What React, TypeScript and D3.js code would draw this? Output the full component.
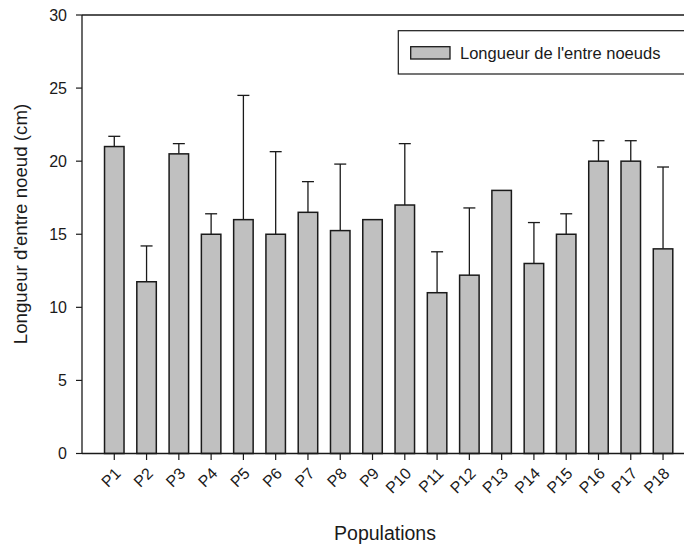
import React from "react";
import * as d3 from "d3";

const categories = ["P1","P2","P3","P4","P5","P6","P7","P8","P9","P10","P11","P12","P13","P14","P15","P16","P17","P18"];
const means = [21, 11.75, 20.5, 15, 16, 15, 16.5, 15.25, 16, 17, 11, 12.2, 18, 13, 15, 20, 20, 14];
const upperErr = [21.7, 14.2, 21.2, 16.4, 24.5, 20.65, 18.6, 19.8, 16, 21.2, 13.8, 16.8, 18, 15.8, 16.4, 21.4, 21.4, 19.6];
const yTicks = [0, 5, 10, 15, 20, 25, 30];
const legendLabel = "Longueur de l'entre noeuds";

export default function App() {
  const W = 684, H = 552;
  const left = 82, top = 15, bottom = 453.5;
  const step = 32.28;
  const x = d3.scaleLinear().domain([0, categories.length + 1]).range([left, left + step * (categories.length + 1)]);
  const y = d3.scaleLinear().domain([0, 30]).range([bottom, top]);
  const bw = 19.5;
  const font = "Liberation Sans, Arial, sans-serif";
  const ink = "#1a1a1a";
  return (
    <svg width={W} height={H} style={{ position: "absolute", left: 0, top: 0, background: "#fff" }} fontFamily={font}>
      {categories.map((c, i) => {
        const cx = x(i + 1);
        const yt = y(means[i]);
        const ye = y(upperErr[i]);
        return (
          <g key={c}>
            {upperErr[i] > means[i] && (
              <g stroke={ink} strokeWidth={1.3}>
                <line x1={cx} x2={cx} y1={yt} y2={ye} />
                <line x1={cx - 6} x2={cx + 6} y1={ye} y2={ye} />
              </g>
            )}
            <rect x={cx - bw / 2} y={yt} width={bw} height={bottom - yt} fill="#c0c0c0" stroke={ink} strokeWidth={1.5} />
          </g>
        );
      })}
      <line x1={left} x2={left} y1={top} y2={bottom} stroke={ink} strokeWidth={1.3} />
      <line x1={left} x2={W} y1={top} y2={top} stroke={ink} strokeWidth={1.3} />
      <line x1={left} x2={W} y1={bottom} y2={bottom} stroke={ink} strokeWidth={1.5} />
      {yTicks.map((t) => (
        <g key={t}>
          <line x1={left - 6} x2={left} y1={y(t)} y2={y(t)} stroke={ink} strokeWidth={1.2} />
          <text x={67} y={y(t)} dy="0.35em" textAnchor="end" fontSize={16} fill={ink}>{t}</text>
        </g>
      ))}
      {categories.map((c, i) => {
        const cx = x(i + 1);
        return (
          <g key={"t" + c}>
            <line x1={cx} x2={cx} y1={bottom} y2={bottom + 6.5} stroke={ink} strokeWidth={1.2} />
            <text transform={`translate(${cx + 3.5},${bottom + 17}) rotate(-45)`} textAnchor="end" dy="0.35em" fontSize={16} fill={ink}>{c}</text>
          </g>
        );
      })}
      <text transform={`translate(27,224) rotate(-90)`} textAnchor="middle" fontSize={18.7} fill={ink}>Longueur d'entre noeud (cm)</text>
      <text x={385} y={540} textAnchor="middle" fontSize={19.5} fill={ink}>Populations</text>
      <rect x={398.3} y={30.7} width={300} height={43.3} fill="#fff" stroke={ink} strokeWidth={1.2} />
      <rect x={410.7} y={46.7} width={39.3} height={12.3} fill="#c0c0c0" stroke={ink} strokeWidth={1.3} />
      <text x={460} y={52.8} dy="0.35em" fontSize={16.5} fill={ink}>{legendLabel}</text>
    </svg>
  );
}
